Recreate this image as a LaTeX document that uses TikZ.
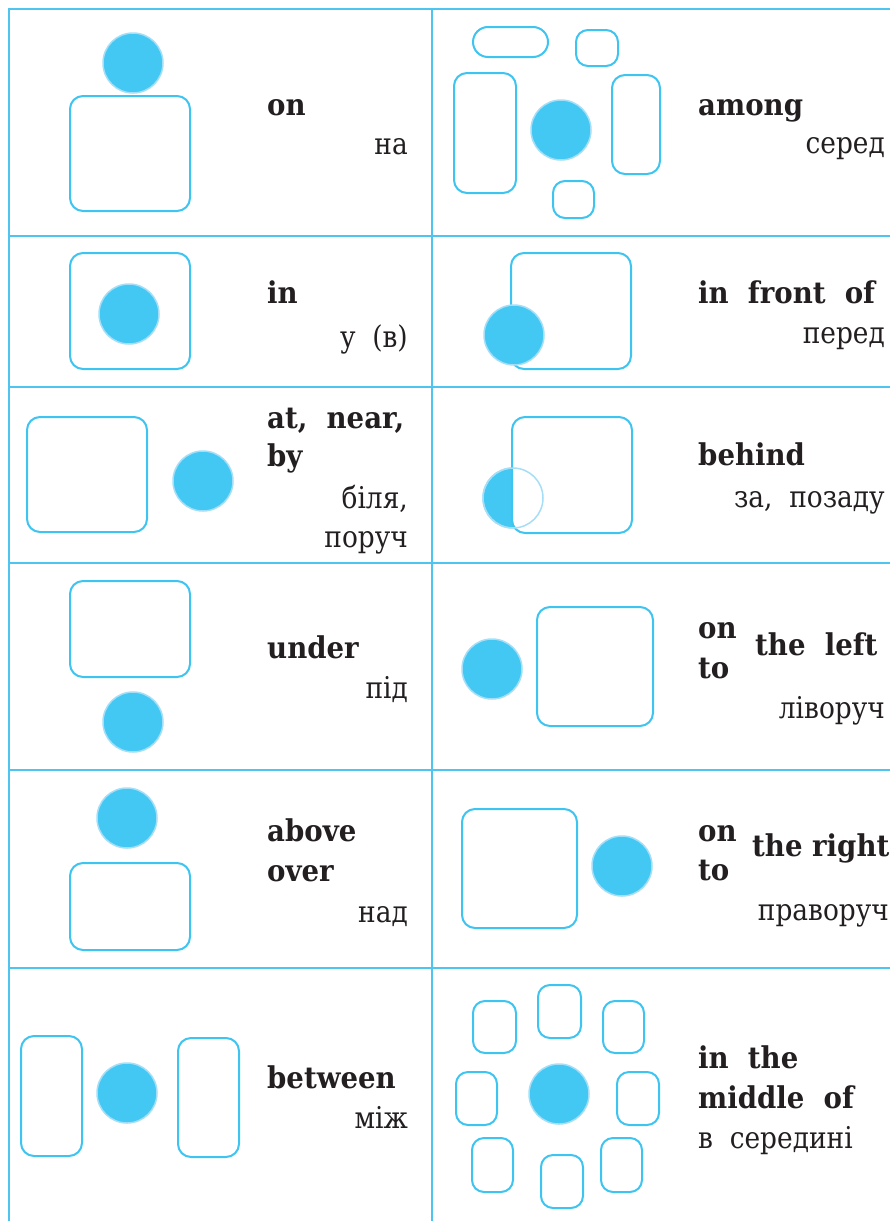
\documentclass[tikz,border=0pt]{standalone}
\usepackage{fontspec}
\setmainfont[FakeStretch=0.88, BoldFeatures={FakeStretch=0.92}]{DejaVu Serif}
\definecolor{gridc}{RGB}{78,196,240}
\definecolor{boxc}{RGB}{62,196,240}
\definecolor{ballc}{RGB}{67,200,244}
\definecolor{haloc}{RGB}{165,222,246}
\definecolor{txtc}{RGB}{35,31,32}
\tikzset{
  grid/.style={draw=gridc, line width=2.4pt},
  box/.style={draw=boxc, line width=2pt, fill=white, rounded corners=13pt, inner sep=0pt, outer sep=0pt},
  ball/.style={circle, fill=ballc, draw=haloc, line width=1.5pt, minimum size=60pt, inner sep=0pt},
  ring/.style={circle, draw=haloc, line width=1.5pt, minimum size=60pt, inner sep=0pt},
  en/.style={anchor=base west, inner sep=0pt, text=txtc, font=\fontsize{30}{36}\selectfont\bfseries},
  ua/.style={anchor=base east, inner sep=0pt, text=txtc, font=\fontsize{30}{36}\selectfont},
  uaw/.style={anchor=base west, inner sep=0pt, text=txtc, font=\fontsize{30}{36}\selectfont},
}
\begin{document}
\begin{tikzpicture}[x=1pt,y=-1pt]
\useasboundingbox (0,0) rectangle (890,1221);
% grid
\draw[grid] (9,1221) -- (9,9) -- (890,9);
\draw[grid] (432,9) -- (432,1221);
\foreach \yy in {236,387,563,770,968} \draw[grid] (9,\yy) -- (890,\yy);

% Row 1 left: on
\node[box, minimum width=120pt, minimum height=115pt] (r1box) at (130,153.5) {};
\node[ball] (r1ball) at (133,63) {};
\node[en] (r1en) at (267,115) {on};
\node[ua] (r1ua) at (408,154) {на};

% Row 1 right: among
\node[box, rounded corners=15pt, minimum width=75pt, minimum height=30pt] (amA) at (510.5,42) {};
\node[box, rounded corners=12pt, minimum width=42pt, minimum height=36pt] (amB) at (597,48) {};
\node[box, minimum width=62pt, minimum height=120pt] (amC) at (485,133) {};
\node[box, minimum width=48pt, minimum height=99pt] (amD) at (636,124.5) {};
\node[box, rounded corners=12pt, minimum width=41pt, minimum height=37pt] (amE) at (573.5,199.5) {};
\node[ball] (amball) at (561,130) {};
\node[en] (amen) at (698,115) {among};
\node[ua] (amua) at (885,153) {серед};

% Row 2 left: in
\node[box, minimum width=120pt, minimum height=116pt] (r2box) at (130,311) {};
\node[ball] (r2ball) at (129,314) {};
\node[en] (r2en) at (267,303) {in};
\node[ua] (r2ua) at (408,347) {у\ \ (в)};

% Row 2 right: in front of
\node[box, minimum width=120pt, minimum height=116pt] (fbox) at (571,311) {};
\node[ball] (fball) at (514,335) {};
\node[en] (fen) at (698,303) {in\ \ front\ \ of};
\node[ua] (fua) at (885,343) {перед};

% Row 3 left: at, near, by
\node[box, minimum width=120pt, minimum height=115pt] (r3box) at (87,474.5) {};
\node[ball] (r3ball) at (203,481) {};
\node[en] (r3en1) at (267,428) {at,\ \ near,};
\node[en] (r3en2) at (267,466) {by};
\node[ua] (r3ua1) at (408,508) {біля,};
\node[ua] (r3ua2) at (408,547) {поруч};

% Row 3 right: behind
\node[ball] (bball) at (513,498) {};
\node[box, minimum width=120pt, minimum height=116pt] (bbox) at (572,475) {};
\node[ring] (bring) at (513,498) {};
\node[en] (ben) at (698,465) {behind};
\node[ua] (bua) at (885,507) {за,\ \ позаду};

% Row 4 left: under
\node[box, minimum width=120pt, minimum height=96pt] (r4box) at (130,629) {};
\node[ball] (r4ball) at (133,722) {};
\node[en] (r4en) at (267,658) {under};
\node[ua] (r4ua) at (408,698) {під};

% Row 4 right: to the left
\node[ball] (lball) at (492,669) {};
\node[box, minimum width=116pt, minimum height=119pt] (lbox) at (595,666.5) {};
\node[en] (len1) at (698,638) {on};
\node[en] (len2) at (698,678) {to};
\node[en] (len3) at (755,655) {the\ \ left};
\node[ua] (lua) at (885,718) {ліворуч};

% Row 5 left: above, over
\node[ball] (r5ball) at (127,818) {};
\node[box, minimum width=120pt, minimum height=87pt] (r5box) at (130,906.5) {};
\node[en] (r5en1) at (267,841) {above};
\node[en] (r5en2) at (267,881) {over};
\node[ua] (r5ua) at (408,922) {над};

% Row 5 right: to the right
\node[box, minimum width=115pt, minimum height=119pt] (rbox) at (519.5,868.5) {};
\node[ball] (rball) at (622,866) {};
\node[en] (ren1) at (698,841) {on};
\node[en] (ren2) at (698,880) {to};
\node[en] (ren3) at (752,856) {the right};
\node[ua] (rua) at (889,920) {праворуч};

% Row 6 left: between
\node[box, minimum width=61pt, minimum height=120pt] (r6boxL) at (51.5,1096) {};
\node[ball] (r6ball) at (127,1093) {};
\node[box, minimum width=61pt, minimum height=119pt] (r6boxR) at (208.5,1097.5) {};
\node[en] (r6en) at (267,1088) {between};
\node[ua] (r6ua) at (408,1128) {між};

% Row 6 right: in the middle of
\node[box, rounded corners=12pt, minimum width=43pt, minimum height=53pt] (mtc) at (559.5,1011.5) {};
\node[box, rounded corners=12pt, minimum width=43pt, minimum height=52pt] (mtl) at (494.5,1027) {};
\node[box, rounded corners=12pt, minimum width=41pt, minimum height=52pt] (mtr) at (623.5,1027) {};
\node[box, rounded corners=12pt, minimum width=41pt, minimum height=53pt] (mml) at (476.5,1098.5) {};
\node[box, rounded corners=12pt, minimum width=42pt, minimum height=53pt] (mmr) at (638,1098.5) {};
\node[box, rounded corners=12pt, minimum width=41pt, minimum height=54pt] (mbl) at (492.5,1165) {};
\node[box, rounded corners=12pt, minimum width=42pt, minimum height=53pt] (mbc) at (562,1181.5) {};
\node[box, rounded corners=12pt, minimum width=41pt, minimum height=54pt] (mbr) at (621.5,1165) {};
\node[ball] (mball) at (559,1094) {};
\node[en] (men1) at (698,1068) {in\ \ the};
\node[en] (men2) at (698,1108) {middle\ \ of};
\node[uaw] (mua) at (698,1148) {в\ \ середині};
\end{tikzpicture}
\end{document}
